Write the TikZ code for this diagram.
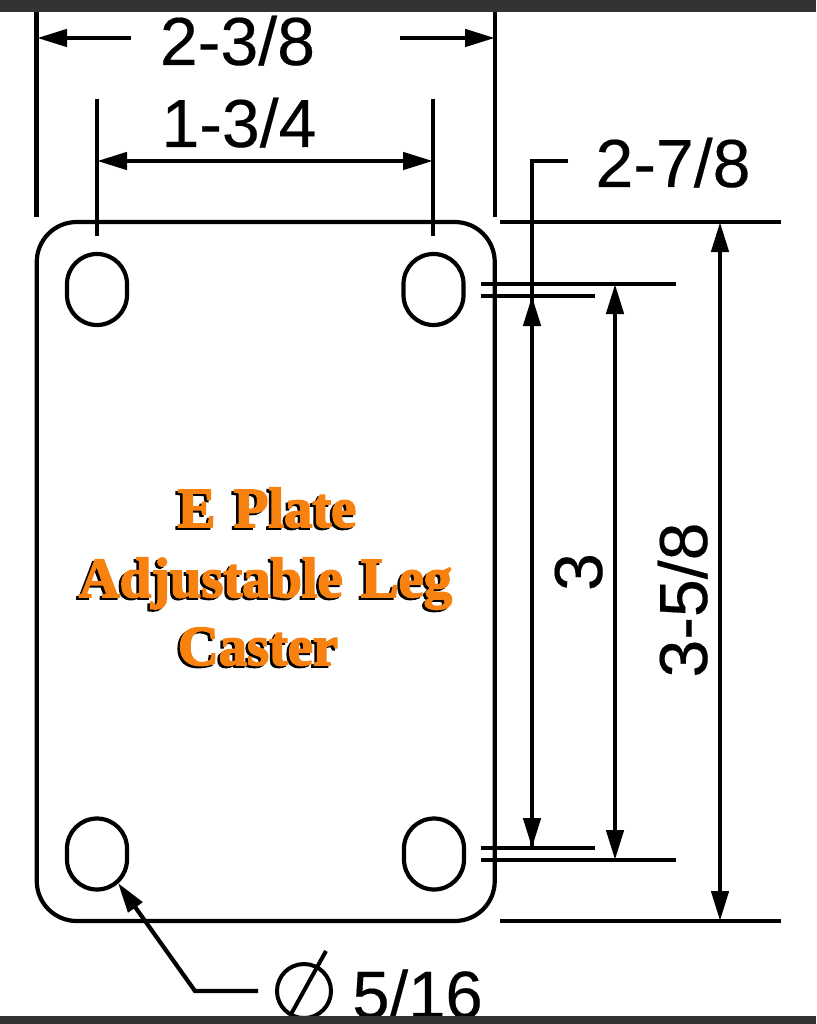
\documentclass[tikz,border=0pt]{standalone}
\usepackage{fontspec}
\usetikzlibrary{arrows.meta,calc}
\setmainfont[FakeBold=0.25]{Liberation Sans}
\newfontfamily\platefont[FakeBold=3,WordSpace=1.3]{Liberation Serif Bold}
\definecolor{barcol}{HTML}{333336}
\definecolor{orangecol}{HTML}{F7820F}
\tikzset{
  x=1pt,y=-1pt,
  outline/.style={draw=black,line width=4.2pt},
  dimline/.style={draw=black,line width=4.6pt},
  dimarrow/.style={dimline,{Triangle[length=30pt,width=17pt]}-{Triangle[length=30pt,width=17pt]}},
  onearrow/.style={dimline,-{Triangle[length=30pt,width=17pt]}},
  hole/.style={outline,rectangle,rounded corners=30pt,minimum width=60pt,minimum height=71pt,inner sep=0pt},
  dimtext/.style={inner sep=0pt,anchor=base,font=\fontsize{68}{68}\selectfont},
  platetext/.style={inner sep=0pt,anchor=base,font=\platefont\fontsize{56.5}{56.5}\selectfont},
  bar/.style={fill=barcol,draw=none}
}
\begin{document}
\begin{tikzpicture}
\useasboundingbox (0,0) rectangle (816,1024);
\fill[white] (0,0) rectangle (816,1024);

% plate and holes
\node[outline,rectangle,rounded corners=40pt,minimum width=458pt,minimum height=699pt,inner sep=0pt] (plate) at (265.75,571.5) {};
\node[hole] (holeTL) at (97,289.5) {};
\node[hole] (holeTR) at (433.5,289.5) {};
\node[hole] (holeBL) at (97,854) {};
\node[hole] (holeBR) at (434,854) {};

% orange title
\foreach \tx/\cx/\by/\nm in {E Plate/267/527/a,Adjustable Leg/265.5/597/b,Caster/258/665/c}{
  \node[platetext,text=black] (shadow\nm) at ($(\cx,\by)+(-2.5,2)$) {\tx};
  \node[platetext,text=orangecol] (title\nm) at (\cx,\by) {\tx};
}

% named end points
\coordinate (wL0) at (36.5,12);   \coordinate (wL1) at (36.5,217);
\coordinate (wR0) at (495,12);    \coordinate (wR1) at (495,217);
\coordinate (wA0) at (131,38);    \coordinate (wA1) at (37,38);
\coordinate (wB0) at (400,38);    \coordinate (wB1) at (495,38);
\coordinate (sL0) at (97,99);     \coordinate (sL1) at (97,236);
\coordinate (sR0) at (433,99);    \coordinate (sR1) at (433,236);
\coordinate (sA0) at (97,161);    \coordinate (sA1) at (433,161);
\coordinate (tA) at (568,161);    \coordinate (tB) at (532,161);
\coordinate (tT) at (532,296);    \coordinate (tD) at (532,848);
\coordinate (h1a) at (481,284);   \coordinate (h1b) at (676,284);
\coordinate (h2a) at (481,296);   \coordinate (h2b) at (595,296);
\coordinate (h3a) at (481,848);   \coordinate (h3b) at (595,848);
\coordinate (h4a) at (481,860);   \coordinate (h4b) at (676,860);
\coordinate (h5a) at (500,222);   \coordinate (h5b) at (781,222);
\coordinate (h6a) at (500,921);   \coordinate (h6b) at (781,921);
\coordinate (v3a) at (615,284);   \coordinate (v3b) at (615,860);
\coordinate (v4a) at (720,222);   \coordinate (v4b) at (720,921);
\coordinate (lTip) at (118,883);  \coordinate (lBend) at (195,991);
\coordinate (lEnd) at (258,991);
\coordinate (sl0) at (326,951);   \coordinate (sl1) at (290,1016);

% dimensions
\draw[dimline] (wL0) -- (wL1);
\draw[dimline] (wR0) -- (wR1);
\draw[onearrow] (wA0) -- (wA1);
\draw[onearrow] (wB0) -- (wB1);
\draw[dimline] (sL0) -- (sL1);
\draw[dimline] (sR0) -- (sR1);
\draw[dimarrow] (sA0) -- (sA1);
\draw[dimline] (tA) -- (tB) -- (tD);
\draw[dimarrow] (tT) -- (tD);
\draw[dimline] (h1a) -- (h1b);
\draw[dimline] (h2a) -- (h2b);
\draw[dimline] (h3a) -- (h3b);
\draw[dimline] (h4a) -- (h4b);
\draw[dimline] (h5a) -- (h5b);
\draw[dimline] (h6a) -- (h6b);
\draw[dimarrow] (v3a) -- (v3b);
\draw[dimarrow] (v4a) -- (v4b);

% labels
\node[dimtext] (d238) at (237.5,65) {2-3/8};
\node[dimtext] (d134) at (239,147) {1-3/4};
\node[dimtext] (d278) at (673,187) {2-7/8};
\node[dimtext,rotate=90] (d3) at (602,572) {3};
\node[dimtext,rotate=90] (d358) at (707,600) {3-5/8};

% hole callout
\draw[onearrow,line width=4.2pt,line join=miter] (lEnd) -- (lBend) -- (lTip);
\node[draw=black,line width=4pt,circle,minimum size=54pt,inner sep=0pt] (phi) at (304,991) {};
\draw[draw=black,line width=4pt] (sl0) -- (sl1);
\node[dimtext,font=\fontsize{67}{67}\selectfont] (d516) at (417.5,1018) {5/16};

% screen bars
\fill[bar] (0,0) rectangle (816,12);
\fill[bar] (0,1016) rectangle (816,1024);
\end{tikzpicture}
\end{document}
